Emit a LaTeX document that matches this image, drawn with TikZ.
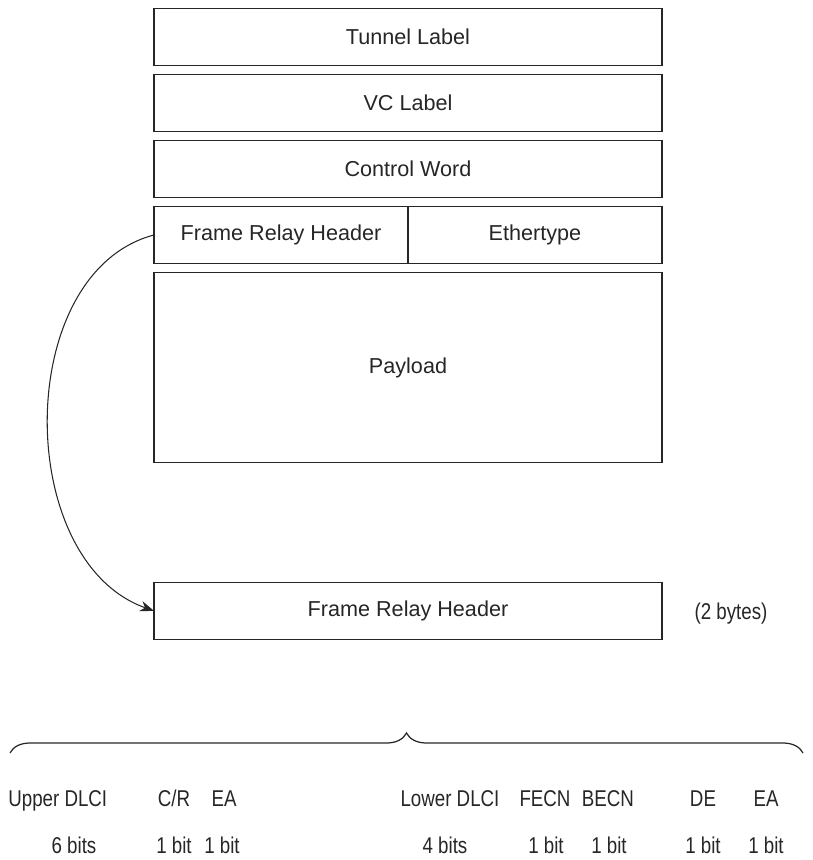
\documentclass[tikz,border=0pt]{standalone}
\usepackage{fontspec}
\setmainfont{Liberation Sans}
\newfontfamily\narrowsans[FakeStretch=0.82]{Liberation Sans}
\usetikzlibrary{arrows.meta, positioning, decorations.pathreplacing}

\begin{document}
\begin{tikzpicture}[
    x=0.02cm, y=-0.02cm,
    node distance = 0.18cm,
    every node/.style = {font=\fontsize{12.3}{14}\selectfont, text=black!85},
    field/.style = {
        rectangle, draw=black!85, line width=0.8pt,
        minimum width=10.16cm, minimum height=1.14cm,
        inner sep=0pt, outer sep=0pt, align=center
    },
    half/.style = {field, minimum width=5.08cm},
    arr/.style = {
        -{Stealth[length=8pt,width=6pt]},
        line width=0.6pt, color=black!85
    },
    brc/.style = {
        decorate, decoration={brace, amplitude=0.4cm},
        line width=0.7pt, color=black!85
    },
    lbl/.style = {inner sep=0pt, anchor=base,
        font=\narrowsans\fontsize{13}{15}\selectfont}
]
\useasboundingbox (0,0) rectangle (813,860);

%% Encapsulation stack
\node[field] (tunnel) at (408,37) {Tunnel Label};
\node[field, below=of tunnel] (vc)  {VC Label};
\node[field, below=of vc]     (cw)  {Control Word};
\node[half, below right=0.18cm and 0cm of cw.south west] (frh)   {Frame Relay Header};
\node[half, right=0pt of frh]                              (ether) {Ethertype};
\node[field, minimum height=3.8cm,
      below right=0.18cm and 0cm of frh.south west] (payload) {Payload};

%% Expanded header
\node[field, below=2.4cm of payload] (frbits) {Frame Relay Header};
\node[lbl] (size) at (731,619) {(2 bytes)};

\draw[arr] (frh.west) .. controls +(-141,37) and +(-141,-50) .. (frbits.west);

%% Brace over the bit fields
\coordinate (braceL) at (10,753);
\coordinate (braceR) at (803,753);
\draw[brc] (braceL) -- (braceR);

%% Field names
\node[lbl, anchor=base west] (updlci) at (8,806) {Upper DLCI};
\node[lbl] (cr)     at (174,806) {C/R};
\node[lbl] (ea1)    at (224,806) {EA};
\node[lbl] (lodlci) at (450,806) {Lower DLCI};
\node[lbl] (fecn)   at (545,806) {FECN};
\node[lbl] (becn)   at (608,806) {BECN};
\node[lbl] (de)     at (703,806) {DE};
\node[lbl] (ea2)    at (766,806) {EA};

%% Field sizes
\node[lbl] (updlcib) at (74,853)  {6 bits};
\node[lbl] (crb)     at (174,853) {1 bit};
\node[lbl] (ea1b)    at (222,853) {1 bit};
\node[lbl] (lodlcib) at (445,853) {4 bits};
\node[lbl] (fecnb)   at (546,853) {1 bit};
\node[lbl] (becnb)   at (609,853) {1 bit};
\node[lbl] (deb)     at (703,853) {1 bit};
\node[lbl] (ea2b)    at (766,853) {1 bit};

\end{tikzpicture}
\end{document}
